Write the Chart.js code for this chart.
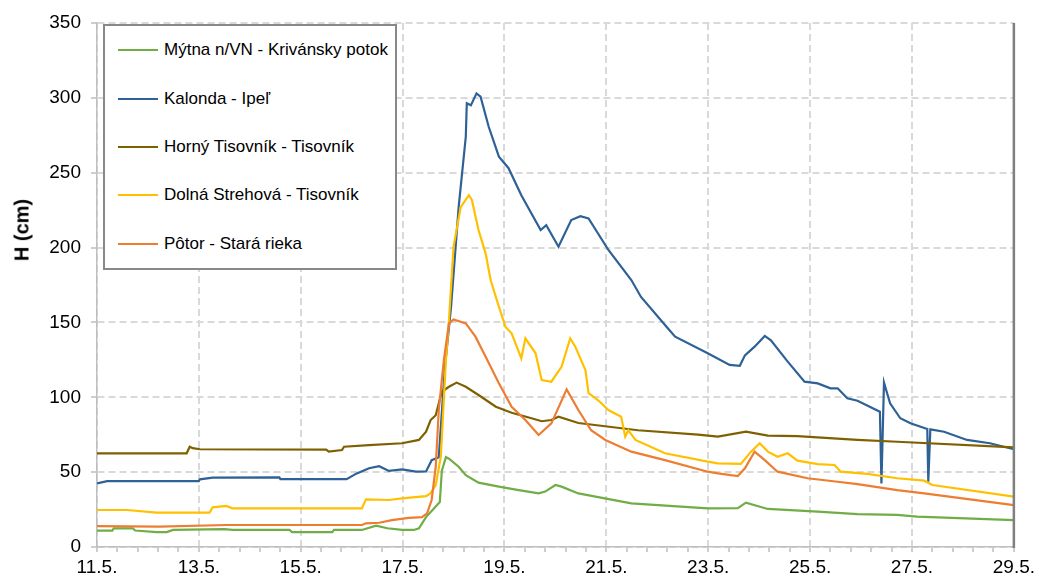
<!DOCTYPE html>
<html>
<head>
<meta charset="utf-8">
<title>Vodné stavy H (cm)</title>
<script src="https://cdn.jsdelivr.net/npm/chart.js@4/dist/chart.umd.min.js"></script>
<style>
    body { margin: 0; background: #fff; }
    #wrap { position: relative; width: 1039px; height: 578px; font-family: "Liberation Sans", Arial, sans-serif; }
    #chart { position: absolute; left: 0; top: 0; }
    #y-title {
        position: absolute; left: 22px; top: 230px;
        transform: translate(-50%, -50%) rotate(-90deg);
        font-weight: bold; font-size: 20px; white-space: nowrap; color: #000;
    }
    #legend {
        position: absolute; left: 103px; top: 24px; width: 290px; height: 242px;
        border: 2px solid #888; background: #fff;
        display: flex; flex-direction: column; justify-content: space-around;
    }
    .legend-item { display: flex; align-items: center; font-size: 17px; color: #000; white-space: nowrap; }
    .legend-line { width: 40px; height: 2px; margin-left: 13px; margin-right: 6px; }
</style>
</head>
<body>
<div id="wrap">
    <canvas id="chart" width="1039" height="578"></canvas>
    <div id="y-title">H (cm)</div>
    <div id="legend"></div>
</div>
<script>
// ===========================
// DATA (day of May, H in cm)
// ===========================

const dateTicks = [11, 13, 15, 17, 19, 21, 23, 25, 27, 29];
const dateLabels = ['11.5.', '13.5.', '15.5.', '17.5.', '19.5.', '21.5.', '23.5.', '25.5.', '27.5.', '29.5.'];

const seriesNames = [
    'Mýtna n/VN - Krivánsky potok',
    'Kalonda - Ipeľ',
    'Horný Tisovník - Tisovník',
    'Dolná Strehová - Tisovník',
    'Pôtor - Stará rieka'
];
const seriesColors = ['#70AD47', '#2E6195', '#7F6000', '#FFC000', '#ED7D31'];

const mytna = [
    [11.0, 10.9], [11.3, 11], [11.33, 12.5], [11.7, 12.5], [11.75, 11], [12.17, 10], [12.37, 10],
    [12.49, 11.4], [13.5, 12], [13.66, 11.4], [14.78, 11.4], [14.83, 10], [15.62, 10], [15.65, 11.4],
    [16.2, 11.4], [16.48, 14.2], [16.7, 12.5], [16.99, 11.4], [17.22, 11.4], [17.32, 12.5],
    [17.46, 20], [17.65, 27], [17.73, 30], [17.77, 51], [17.85, 60], [17.91, 59], [18.1, 53.6],
    [18.24, 48], [18.49, 43], [18.89, 40.3], [19.28, 38], [19.67, 35.8], [19.8, 37], [20.0, 41.4],
    [20.12, 40.3], [20.45, 35.8], [21.49, 29.2], [22.99, 25.8], [23.58, 26], [23.74, 29.6],
    [24.17, 25.4], [25.15, 23.6], [25.93, 22], [26.71, 21.4], [27.1, 20.3], [29.0, 18]
];

const kalonda = [
    [11.0, 42.5], [11.2, 44], [13.0, 44], [13.02, 45.2], [13.27, 46.3], [14.58, 46.5], [14.6, 45.4],
    [15.9, 45.3], [16.09, 49], [16.34, 52.6], [16.54, 54], [16.73, 50.8], [16.99, 51.9],
    [17.26, 50.3], [17.46, 50.5], [17.57, 58], [17.71, 60], [17.83, 120], [17.95, 160],
    [18.1, 227], [18.24, 274], [18.26, 296.4], [18.34, 295], [18.45, 303], [18.53, 300.8],
    [18.69, 280.7], [18.89, 260.7], [19.08, 253], [19.33, 235], [19.71, 211.7], [19.82, 215],
    [20.06, 200.6], [20.31, 218.4], [20.49, 221], [20.65, 219.5], [21.04, 198.4], [21.49, 178.3],
    [21.68, 167], [22.21, 146], [22.35, 140.5], [22.99, 129.4], [23.42, 121.6], [23.62, 121],
    [23.72, 128], [23.91, 133.8], [24.11, 141], [24.23, 138], [24.56, 123.8], [24.89, 110.4],
    [25.15, 109.3], [25.4, 106], [25.54, 106], [25.73, 99.3], [25.93, 97.7], [26.37, 90.4],
    [26.4, 42.5], [26.45, 109.8], [26.57, 96], [26.77, 86], [26.97, 82.6], [27.3, 78.8],
    [27.32, 43.6], [27.36, 78.6], [27.63, 77], [28.08, 71.5], [28.53, 69.3], [29.0, 65.3]
];

const hornyTisovnik = [
    [11.0, 62.6], [12.76, 62.6], [12.82, 67], [12.88, 66], [13.02, 65.3], [15.5, 65], [15.55, 63.7],
    [15.81, 64.8], [15.85, 67], [16.34, 68], [16.99, 69.3], [17.32, 71.5], [17.46, 77],
    [17.55, 84.8], [17.65, 88], [17.71, 96], [17.77, 103.7], [17.91, 107], [18.06, 109.8],
    [18.24, 107], [18.49, 101.5], [18.83, 93.7], [19.14, 89.7], [19.53, 86], [19.73, 84],
    [19.92, 84.8], [20.06, 87], [20.45, 82.8], [21.62, 78], [22.8, 75], [23.19, 73.7],
    [23.74, 77], [24.17, 74.4], [24.75, 74], [25.93, 71.5], [26.71, 70.3], [29.0, 66.6]
];

const dolnaStrehova = [
    [11.0, 24.7], [11.59, 24.7], [12.17, 22.9], [13.21, 22.9], [13.27, 26.5], [13.54, 27.4],
    [13.66, 25.8], [16.2, 25.8], [16.28, 31.8], [16.73, 31.4], [16.99, 32.5], [17.46, 34],
    [17.55, 36], [17.65, 41.4], [17.75, 60.3], [17.85, 125], [17.91, 151.6], [18.0, 200.6],
    [18.14, 227], [18.3, 235], [18.36, 231.8], [18.49, 211.7], [18.63, 196], [18.73, 178],
    [18.89, 160.5], [19.02, 147], [19.14, 142.7], [19.33, 126], [19.41, 139.4], [19.61, 129.4],
    [19.73, 111.5], [19.92, 110.4], [20.12, 120.4], [20.29, 139.4], [20.39, 133.8], [20.59, 118],
    [20.65, 102.7], [20.84, 98], [21.04, 91.5], [21.29, 87], [21.37, 73.7], [21.43, 78],
    [21.57, 71.5], [22.15, 62.6], [22.99, 57], [23.19, 55.9], [23.64, 55.5], [23.84, 63.7],
    [24.01, 69.3], [24.17, 63.7], [24.36, 60.3], [24.56, 62.6], [24.75, 57.7], [25.15, 55.4],
    [25.48, 54.8], [25.6, 50.3], [26.12, 48.8], [26.71, 45.9], [27.24, 44.3], [27.4, 41.4],
    [29.0, 33.6]
];

const potor = [
    [11.0, 14], [12.23, 13.6], [13.54, 14.7], [16.2, 14.7], [16.28, 15.8], [16.54, 16.2],
    [16.79, 18], [17.12, 19.5], [17.38, 20], [17.48, 22.5], [17.57, 31.4], [17.65, 53.6],
    [17.71, 91.5], [17.81, 125], [17.91, 149.4], [18.0, 152], [18.24, 149.4], [18.43, 140.5],
    [18.63, 127], [18.89, 109.3], [19.14, 93.7], [19.41, 84.8], [19.67, 74.8], [19.92, 82.6],
    [20.22, 105.3], [20.45, 91.5], [20.7, 78], [20.98, 71.5], [21.49, 63.7], [22.15, 58],
    [22.99, 50.3], [23.19, 49.2], [23.58, 47.4], [23.72, 52.6], [23.91, 63.7], [24.11, 58],
    [24.36, 50.3], [24.95, 45.9], [25.54, 43.6], [25.93, 42], [26.71, 38], [27.24, 35.8], [29.0, 28]
];

const seriesData = [mytna, kalonda, hornyTisovnik, dolnaStrehova, potor];

// ===========================
// HELPERS
// ===========================

function labelIndex(value) {
    const d = Math.round(value);
    if (Math.abs(value - d) > 1e-6) return -1;
    return dateTicks.indexOf(d);
}

// right edge of plot area (dark frame line)
const plotFrame = {
    id: 'plotFrame',
    afterDatasetsDraw(chart) {
        const { ctx, chartArea } = chart;
        ctx.save();
        ctx.strokeStyle = '#7f7f7f';
        ctx.lineWidth = 2.5;
        ctx.beginPath();
        ctx.moveTo(chartArea.right, chartArea.top);
        ctx.lineTo(chartArea.right, chartArea.bottom + 1);
        ctx.stroke();
        ctx.restore();
    }
};

function buildLegend() {
    const legend = document.getElementById('legend');
    seriesNames.forEach((name, i) => {
        const item = document.createElement('div');
        item.className = 'legend-item';
        item.innerHTML = `<span class="legend-line" style="background:${seriesColors[i]}"></span><span>${name}</span>`;
        legend.appendChild(item);
    });
}

// ===========================
// CHART
// ===========================

function renderChart() {
    const tickFont = { family: '"Liberation Sans", Arial, sans-serif', size: 19 };
    const datasets = seriesData.map((points, i) => ({
        label: seriesNames[i],
        data: points.map(p => ({ x: p[0], y: p[1] })),
        borderColor: seriesColors[i],
        borderWidth: 2.2,
        pointRadius: 0,
        tension: 0,
        fill: false,
        order: seriesData.length - i
    }));

    new Chart(document.getElementById('chart').getContext('2d'), {
        type: 'line',
        data: { datasets: datasets },
        options: {
            responsive: false,
            animation: false,
            devicePixelRatio: 1,
            layout: { padding: { top: 23, right: 22, left: 0, bottom: 0 } },
            plugins: {
                legend: { display: false },
                tooltip: { enabled: false }
            },
            scales: {
                x: {
                    type: 'linear',
                    min: 11,
                    max: 29,
                    afterFit: scale => { scale.height = 31; },
                    ticks: {
                        stepSize: 0.4,
                        autoSkip: false,
                        maxRotation: 0,
                        padding: 4,
                        color: '#000',
                        font: tickFont,
                        callback: value => {
                            const idx = labelIndex(value);
                            return idx >= 0 ? dateLabels[idx] : '';
                        }
                    },
                    grid: {
                        color: ctx => (ctx.tick && labelIndex(ctx.tick.value) >= 0) ? '#d9d9d9' : 'rgba(0,0,0,0)',
                        lineWidth: 2,
                        tickColor: '#bfbfbf',
                        tickLength: 5,
                        tickWidth: 1.5,
                        tickBorderDash: [1, 0]
                    },
                    border: { color: '#bfbfbf', width: 1.5, dash: [7, 4] }
                },
                y: {
                    min: 0,
                    max: 350,
                    afterFit: scale => { scale.width = 97; },
                    ticks: {
                        stepSize: 50,
                        padding: 10,
                        color: '#000',
                        font: tickFont
                    },
                    grid: {
                        color: '#d9d9d9',
                        lineWidth: 2,
                        tickColor: '#bfbfbf',
                        tickLength: 6,
                        tickWidth: 1.5,
                        tickBorderDash: [1, 0]
                    },
                    border: { color: '#bfbfbf', width: 1.5, dash: [7, 4] }
                }
            }
        },
        plugins: [plotFrame]
    });
}

buildLegend();
renderChart();
</script>
</body>
</html>
